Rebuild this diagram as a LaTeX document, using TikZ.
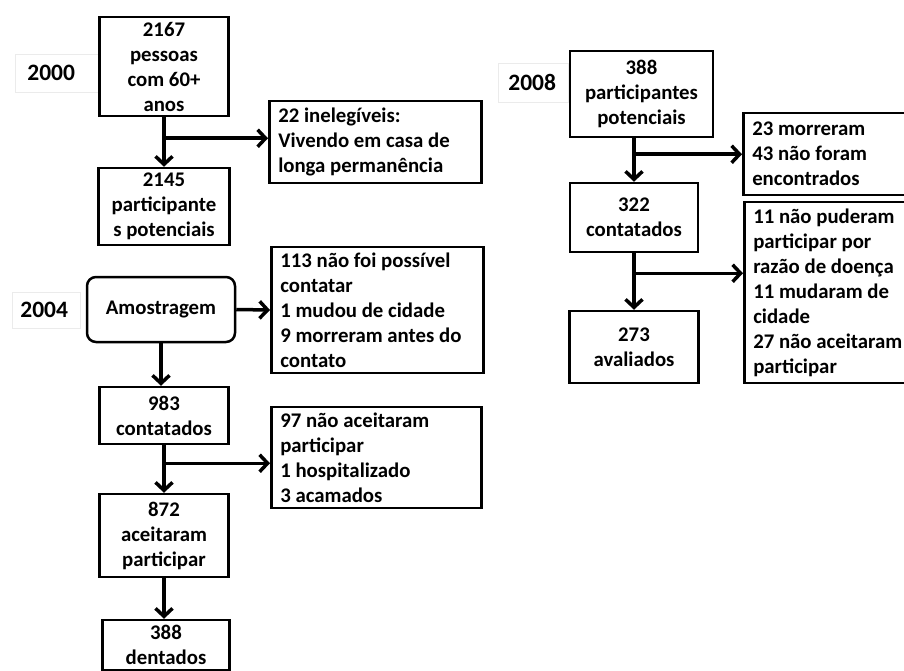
\documentclass[tikz,border=0pt]{standalone}
\usepackage{fontspec}
\setmainfont{Carlito}
\usetikzlibrary{arrows.meta}
\begin{document}
\begin{tikzpicture}[x=1pt,y=-1pt,font=\bfseries\fontsize{20.8pt}{25pt}\selectfont,
  every node/.style={draw,line width=2.5pt,inner sep=0pt,align=center},
  lado/.style={align=flush left,inner xsep=9pt},
  ano/.style={draw=black!8,line width=0.8pt,align=flush left,anchor=west,font=\bfseries\fontsize{23.5pt}{25pt}\selectfont},
  seta/.style={line width=3.5pt,-{Straight Barb[length=8pt,width=17pt]}}]
\useasboundingbox (0,0) rectangle (904,671);
% 2000
\node[ano,inner xsep=12pt,text width=59pt,minimum height=38] (y0) at (15,73) {2000};
\node[minimum width=129,minimum height=99] (a) at (164,66.5) {2167\\pessoas\\com 60+\\anos};
\node[lado,text width=194pt,minimum height=82,anchor=west] (b) at (268,142) {22 inelegíveis:\\Vivendo em casa de\\longa permanência};
\node[minimum width=131,minimum height=77] (c) at (164,206.5) {2145\\participante\\s potenciais};
% 2004
\node[ano,inner xsep=8pt,text width=52pt,minimum height=36] (y1) at (12,310) {2004};
\node[rounded corners=9pt,minimum width=148,minimum height=65] (d) at (161,309.5) {Amostragem};
\node[lado,text width=194pt,minimum height=126,anchor=west] (e) at (270,310) {113 não foi possível\\contatar\\1 mudou de cidade\\9 morreram antes do\\contato};
\node[minimum width=129,minimum height=57] (f) at (164,415.5) {983\\contatados};
\node[lado,text width=192pt,minimum height=101,anchor=west] (g) at (270,457.5) {97 não aceitaram\\participar\\1 hospitalizado\\3 acamados};
\node[minimum width=129,minimum height=83] (h) at (164,535.5) {872\\aceitaram\\participar};
\node[minimum width=127,minimum height=50] (i) at (166,645) {388\\dentados};
% 2008
\node[ano,inner xsep=10pt,text width=50pt,minimum height=39] (y2) at (498,82.5) {2008};
\node[minimum width=143,minimum height=86] (j) at (641.5,94) {388\\participantes\\potenciais};
\node[lado,text width=172pt,minimum height=82,anchor=west] (k) at (742,154) {23 morreram\\43 não foram\\encontrados};
\node[minimum width=128,minimum height=69] (l) at (634,217.5) {322\\contatados};
\node[lado,text width=172pt,minimum height=181,anchor=west] (m) at (743,292.5) {11 não puderam\\participar por\\razão de doença\\11 mudaram de\\cidade\\27 não aceitaram\\participar};
\node[minimum width=129,minimum height=72] (n) at (634,347) {273\\avaliados};
% setas
\path (a.south) ++(0,21) coordinate (ab); \path (f.south) ++(0,18) coordinate (fh); \path (l.north |- j.south) ++(0,16) coordinate (jl); \path (l.south) ++(0,20) coordinate (ln);
\draw[seta] (a.south)--(c.north);\draw[seta] (ab)--(ab -| b.west);\draw[seta] (d.east)--(e.west);\draw[seta] (d.south)--(d.south |- f.north);
\draw[seta] (f.south)--(h.north);\draw[seta] (fh)--(fh -| g.west);\draw[seta] (h.south)--(h.south |- i.north);
\draw[seta] (l.north |- j.south)--(l.north);\draw[seta] (jl)--(jl -| k.west);\draw[seta] (l.south)--(n.north);\draw[seta] (ln)--(ln -| m.west);
\end{tikzpicture}
\end{document}
